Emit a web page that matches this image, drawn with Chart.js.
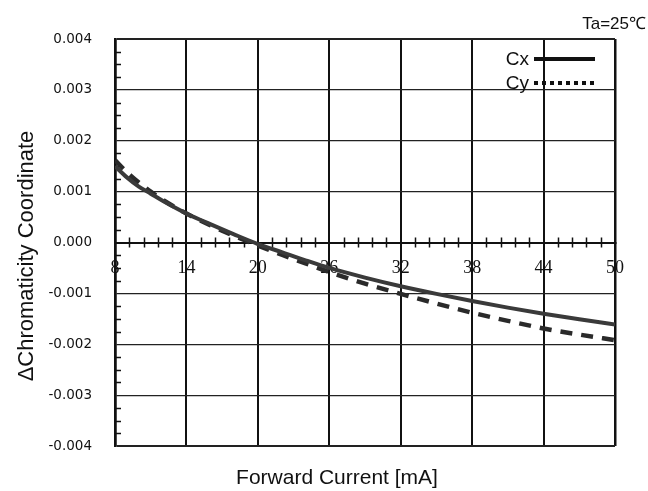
<!DOCTYPE html>
<html>
<head>
<meta charset="utf-8">
<script src="https://cdn.jsdelivr.net/npm/chart.js@4.4.1/dist/chart.umd.min.js"></script>
<style>
  html, body { margin: 0; padding: 0; background: #fff; }
  #wrap { width: 648px; height: 491px; }
</style>
</head>
<body>
<div id="wrap"><canvas id="chart" width="648" height="491"></canvas></div>
<script>
const currentMa = [8, 9, 10, 11, 12, 14, 16, 18, 20, 22, 24, 26, 29, 32, 35, 38, 41, 44, 47, 50]

// chromaticity shift of each coordinate
const cxShift = [0.00150, 0.00128, 0.00110, 0.00096, 0.00082, 0.00057, 0.00036, 0.00016, -0.00003, -0.00019,
  -0.00035, -0.00050, -0.00069, -0.00086, -0.00101, -0.00115, -0.00128, -0.00140, -0.00151, -0.00161]
const cyShift = [0.00162, 0.00138, 0.00118, 0.00100, 0.00084, 0.00057, 0.00034, 0.00013, -0.00006, -0.00024,
  -0.00041, -0.00058, -0.00081, -0.00101, -0.00120, -0.00138, -0.00154, -0.00169, -0.00181, -0.00192]

const seriesNames = ['Cx', 'Cy']

// axis ticks
const xTicks = [8, 14, 20, 26, 32, 38, 44, 50]
const yTicks = [-0.004, -0.003, -0.002, -0.001, 0, 0.001, 0.002, 0.003, 0.004]

const xTitle = 'Forward Current [mA]'
const yTitle = '\u0394Chromaticity Coordinate'
const noteText = 'Ta=25\u2103'

function pontos(valores) {
  return currentMa.map((x, i) => ({ x: x, y: valores[i] }))
}

function rotuloY(v) {
  if (Math.abs(v) < 1e-9) return '0.000'
  return v.toFixed(3)
}

// small ticks between the major ones (x along the zero line, y on the left border)
const minorTicks = {
  id: 'minorTicks',
  beforeDatasetsDraw(chart) {
    const { ctx, chartArea: a, scales } = chart
    const zeroY = scales.y.getPixelForValue(0)
    ctx.save()
    ctx.strokeStyle = '#111'
    ctx.lineWidth = 1.5
    ctx.beginPath()
    for (let i = 0; i < xTicks.length - 1; i++) {
      const passo = (xTicks[i + 1] - xTicks[i]) / 5
      for (let k = 1; k < 5; k++) {
        const px = Math.round(scales.x.getPixelForValue(xTicks[i] + k * passo)) + 0.5
        ctx.moveTo(px, zeroY - 5)
        ctx.lineTo(px, zeroY + 5)
      }
    }
    for (let i = 0; i < yTicks.length - 1; i++) {
      const passo = (yTicks[i + 1] - yTicks[i]) / 4
      for (let k = 1; k < 4; k++) {
        const py = Math.round(scales.y.getPixelForValue(yTicks[i] + k * passo)) + 0.5
        ctx.moveTo(a.left, py)
        ctx.lineTo(a.left + 6, py)
      }
    }
    ctx.stroke()
    ctx.restore()
  }
}

// legend drawn inside the plot, text first then the line sample
const legendaInterna = {
  id: 'legendaInterna',
  afterDatasetsDraw(chart) {
    const { ctx, chartArea: a } = chart
    chart.data.datasets.forEach((ds, i) => {
      const y = a.top + 20 + i * 24
      ctx.save()
      ctx.font = '19px "Liberation Sans", Arial, sans-serif'
      ctx.fillStyle = '#111'
      ctx.textAlign = 'right'
      ctx.textBaseline = 'middle'
      ctx.fillText(ds.label, a.right - 86, y + 1)
      ctx.strokeStyle = '#111'
      ctx.lineWidth = 4
      ctx.setLineDash(ds.legendDash)
      ctx.beginPath()
      ctx.moveTo(a.right - 81, y)
      ctx.lineTo(a.right - 20, y)
      ctx.stroke()
      ctx.restore()
    })
  }
}

// axis titles and the temperature note
const textosExtras = {
  id: 'textosExtras',
  afterDraw(chart) {
    const { ctx, chartArea: a } = chart
    ctx.save()
    ctx.fillStyle = '#111'
    ctx.textAlign = 'center'
    ctx.textBaseline = 'middle'
    ctx.font = '21px "Liberation Sans", Arial, sans-serif'
    ctx.fillText(xTitle, a.left + 222, a.bottom + 32)

    ctx.save()
    ctx.font = '22px "Liberation Sans", Arial, sans-serif'
    ctx.translate(a.left - 88, a.top + 217)
    ctx.rotate(-Math.PI / 2)
    ctx.fillText(yTitle, 0, 0)
    ctx.restore()

    ctx.font = '17px "Liberation Sans", Arial, sans-serif'
    ctx.textAlign = 'right'
    ctx.textBaseline = 'alphabetic'
    ctx.fillText(noteText, a.right + 31, a.top - 10)
    ctx.restore()
  }
}

new Chart('chart', {
  type: 'line',
  data: {
    datasets: [
      {
        label: seriesNames[0],
        data: pontos(cxShift),
        borderColor: '#3a3a3a',
        borderWidth: 4,
        legendDash: []
      },
      {
        label: seriesNames[1],
        data: pontos(cyShift),
        borderColor: '#2a2a2a',
        borderWidth: 4.5,
        borderDash: [12, 9],
        legendDash: [4, 4]
      }
    ]
  },
  options: {
    responsive: false,
    animation: false,
    devicePixelRatio: 1,
    layout: { padding: { left: 0, top: 39, right: 33, bottom: 45 } },
    elements: {
      point: { radius: 0 },
      line: { cubicInterpolationMode: 'monotone', fill: false }
    },
    plugins: {
      legend: { display: false },
      tooltip: { enabled: false }
    },
    scales: {
      x: {
        type: 'linear',
        position: { y: 0 },
        min: 8,
        max: 50,
        afterBuildTicks: scale => { scale.ticks = xTicks.map(v => ({ value: v })) },
        grid: {
          color: '#111',
          lineWidth: ctx => (ctx.tick && (ctx.tick.value === 8 || ctx.tick.value === 50)) ? 2.5 : 2,
          drawTicks: false
        },
        border: { display: true, color: '#111', width: 2 },
        ticks: {
          padding: 15,
          maxRotation: 0,
          autoSkip: false,
          color: '#111',
          font: { family: '"Liberation Serif", "Times New Roman", serif', size: 18 }
        }
      },
      y: {
        type: 'linear',
        position: 'left',
        min: -0.004,
        max: 0.004,
        afterBuildTicks: scale => { scale.ticks = yTicks.map(v => ({ value: v })) },
        afterFit: scale => { scale.width = 115 },
        grid: {
          color: '#222',
          lineWidth: ctx => (ctx.tick && Math.abs(Math.abs(ctx.tick.value) - 0.004) < 1e-9) ? 2 : 1.2,
          drawTicks: false
        },
        border: { display: true, color: '#111', width: 2.5 },
        ticks: {
          padding: 23,
          color: '#111',
          font: { family: '"DejaVu Sans", Verdana, sans-serif', size: 13.5 },
          callback: v => rotuloY(v)
        }
      }
    }
  },
  plugins: [minorTicks, legendaInterna, textosExtras]
})
</script>
</body>
</html>
